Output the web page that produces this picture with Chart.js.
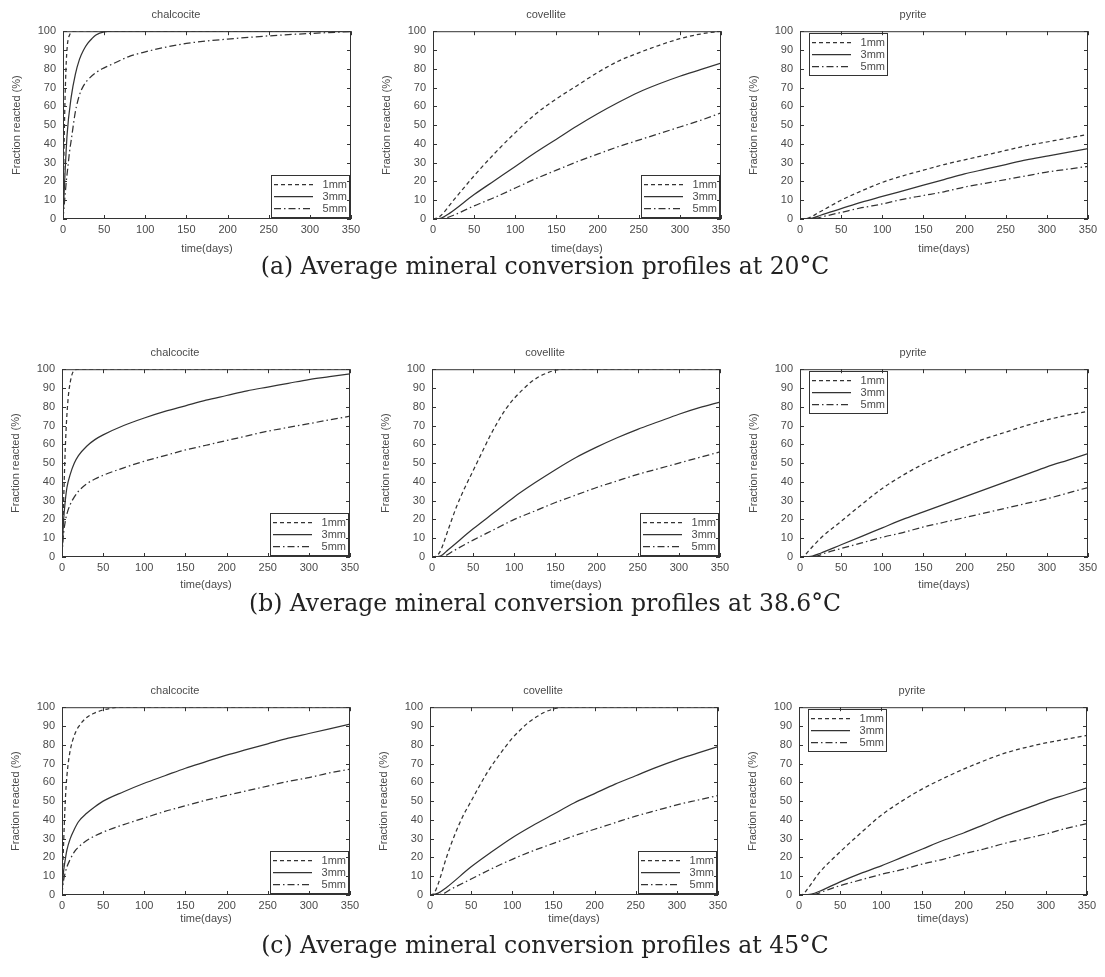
<!DOCTYPE html>
<html><head><meta charset="utf-8">
<script src="https://cdn.jsdelivr.net/npm/chart.js@4"></script>
<style>
body{margin:0;background:#fff;width:1105px;height:977px;position:relative;overflow:hidden;}
canvas{position:absolute;}
.cap{position:absolute;left:0;width:1090px;text-align:center;font-family:"DejaVu Serif",serif;font-size:23.5px;line-height:26px;color:#222;}
</style></head><body>
<script>
// ---- categories / labels ----
const minerals = ['chalcocite', 'covellite', 'pyrite'];
const sizes = ['1mm', '3mm', '5mm'];
const xTicks = [0, 50, 100, 150, 200, 250, 300, 350];
const yTicks = [0, 10, 20, 30, 40, 50, 60, 70, 80, 90, 100];
const captions = [
  '(a) Average mineral conversion profiles at 20°C',
  '(b) Average mineral conversion profiles at 38.6°C',
  '(c) Average mineral conversion profiles at 45°C'
];

// ---- series values: [time (days), fraction reacted (%)] ----
// 20 °C
const ch20_1 = [[0,0],[1,30],[2,55],[3,72],[4,84],[5,91],[6,95],[8,98],[10,99.5],[15,100],[350,100]];
const ch20_3 = [[0,0],[2,20],[5,45],[10,65],[15,77],[20,85],[25,90],[30,93.5],[35,96],[40,98],[50,99.7],[60,100],[350,100]];
const ch20_5 = [[0,0],[2,10],[4,20],[6,28],[8,36],[10,42],[15,57],[20,66],[25,71],[30,74],[40,78],[50,80.5],[60,82.5],[80,86.5],[100,89],[125,91.5],[150,93.5],[175,94.8],[200,95.8],[250,97.5],[300,98.8],[350,99.8]];
const cv20_1 = [[0,0],[5,0.5],[10,2],[25,10],[50,23],[75,35],[100,46],[125,56],[150,64],[175,71],[200,78],[225,84],[250,88.5],[275,92.5],[300,96],[325,98.5],[350,100]];
const cv20_3 = [[0,0],[10,0.5],[20,3],[50,13],[75,20.5],[100,28],[125,35.5],[150,42.5],[175,49.5],[200,56],[225,62],[250,67.5],[275,72],[300,76],[325,79.5],[350,83]];
const cv20_5 = [[0,0],[15,0.5],[25,2],[50,7],[75,11.5],[100,16.5],[125,21.5],[150,26],[175,30.5],[200,34.5],[225,38.5],[250,42],[275,45.5],[300,49],[325,52.5],[350,56.5]];
const py20_1 = [[0,0],[10,0.5],[25,4],[50,10],[75,15],[100,19.5],[125,23],[150,26],[175,29],[200,31.5],[225,34],[250,36.5],[275,39],[300,41],[325,43],[350,45]];
const py20_3 = [[0,0],[15,0.5],[25,2],[50,5.5],[75,9],[100,12],[125,15],[150,18],[175,21],[200,24],[225,26.5],[250,29],[275,31.5],[300,33.5],[325,35.5],[350,37.5]];
const py20_5 = [[0,0],[20,0.5],[30,1.5],[50,3.5],[75,6],[100,8],[125,10.5],[150,12.5],[175,14.5],[200,17],[225,19],[250,21],[275,23],[300,25],[325,26.5],[350,28]];
// 38.6 °C
const ch38_1 = [[0,0],[1,15],[2,30],[3,45],[4,58],[5,68],[6,76],[7,82],[8,87],[10,93],[12,97],[15,99.5],[20,100],[350,100]];
const ch38_3 = [[0,0],[1,12],[2,20],[4,30],[6,37],[10,44],[15,50],[20,54],[30,59],[40,62.5],[50,65],[75,70],[100,74],[125,77.5],[150,80.5],[175,83.5],[200,86],[225,88.5],[250,90.5],[275,92.5],[300,94.5],[325,96],[350,97.5]];
const ch38_5 = [[0,0],[1,8],[2,13],[4,19],[6,23],[10,28],[15,32],[20,35],[30,39],[40,41.5],[50,43.5],[75,47.5],[100,51],[125,54],[150,57],[175,59.5],[200,62],[225,64.5],[250,67],[275,69],[300,71],[325,73],[350,75]];
const cv38_1 = [[0,0],[5,0.5],[10,3],[20,15],[30,27],[40,37],[50,46],[60,55],[70,64],[80,72],[90,79],[100,84.5],[110,89],[120,93],[130,96],[140,98],[150,99.5],[160,100],[350,100]];
const cv38_3 = [[0,0],[10,0.5],[20,4],[50,15],[75,23.5],[100,32],[125,39.5],[150,46.5],[175,53],[200,58.5],[225,63.5],[250,68],[275,72],[300,76],[325,79.5],[350,82.5]];
const cv38_5 = [[0,0],[15,0.5],[25,3],[50,9],[75,14.5],[100,20],[125,24.5],[150,29],[175,33],[200,37],[225,40.5],[250,44],[275,47],[300,50],[325,53],[350,56]];
const py38_1 = [[0,0],[5,0.5],[10,3],[25,10],[50,19],[75,28],[100,36.5],[125,43.5],[150,49.5],[175,54.5],[200,59],[225,63],[250,66.5],[275,70],[300,73],[325,75.5],[350,77.5]];
const py38_3 = [[0,0],[15,0.5],[25,2],[50,6.5],[75,11],[100,15.5],[125,20],[150,24],[175,28],[200,32],[225,36],[250,40],[275,44],[300,48],[325,51.5],[350,55]];
const py38_5 = [[0,0],[20,0.5],[30,2],[50,4.5],[75,7.5],[100,10.5],[125,13],[150,16],[175,18.5],[200,21],[225,23.5],[250,26],[275,28.5],[300,31],[325,34],[350,37]];
// 45 °C
const ch45_1 = [[0,0],[1,15],[2,28],[3,40],[4,50],[5,58],[7,68],[10,77],[15,85],[20,89.5],[30,94.5],[40,97],[50,98.5],[60,99.5],[70,100],[350,100]];
const ch45_3 = [[0,0],[1,8],[2,13],[4,19],[6,24],[10,30],[15,35],[20,39],[30,43.5],[40,47],[50,50],[75,55],[100,59.5],[125,63.5],[150,67.5],[175,71],[200,74.5],[225,77.5],[250,80.5],[275,83.5],[300,86],[325,88.5],[350,91]];
const ch45_5 = [[0,0],[1,5],[2,8],[4,12],[6,15],[10,19],[15,23],[20,25.5],[30,29],[40,31.5],[50,33.5],[75,37.5],[100,41],[125,44.5],[150,47.5],[175,50.5],[200,53],[225,55.5],[250,58],[275,60.5],[300,62.5],[325,65],[350,67]];
const cv45_1 = [[0,0],[5,1],[10,6],[20,20],[30,32],[40,42],[50,50],[60,58],[70,65.5],[80,72],[90,78],[100,83.5],[110,88],[120,92],[130,95],[140,97.5],[150,99],[160,100],[350,100]];
const cv45_3 = [[0,0],[10,1],[20,4],[50,15],[75,23],[100,30.5],[125,37],[150,43],[175,49],[200,54],[225,59],[250,63.5],[275,68],[300,72],[325,75.5],[350,79]];
const cv45_5 = [[0,0],[15,0.5],[25,3],[50,8.5],[75,14],[100,19],[125,23.5],[150,27.5],[175,31.5],[200,35],[225,38.5],[250,42],[275,45],[300,48],[325,50.5],[350,53]];
const py45_1 = [[0,0],[5,0.5],[10,3],[25,12],[50,23],[75,33],[100,42.5],[125,50],[150,56.5],[175,62],[200,67],[225,71.5],[250,75.5],[275,78.5],[300,81],[325,83],[350,85]];
const py45_3 = [[0,0],[15,0.5],[25,2],[50,7],[75,11.5],[100,15.5],[125,20],[150,24.5],[175,29],[200,33],[225,37.5],[250,42],[275,46],[300,50],[325,53.5],[350,57]];
const py45_5 = [[0,0],[20,0.5],[30,2],[50,5],[75,8],[100,11],[125,13.5],[150,16.5],[175,19],[200,22],[225,24.5],[250,27.5],[275,30],[300,32.5],[325,35.5],[350,38]];

const panelSeries = [
  [[ch20_1, ch20_3, ch20_5], [cv20_1, cv20_3, cv20_5], [py20_1, py20_3, py20_5]],
  [[ch38_1, ch38_3, ch38_5], [cv38_1, cv38_3, cv38_5], [py38_1, py38_3, py38_5]],
  [[ch45_1, ch45_3, ch45_5], [cv45_1, cv45_3, cv45_5], [py45_1, py45_3, py45_5]]
];

// ---- layout & style ----
const rowPlotTop = [31, 369, 707];
const colPlotLeft = [[63, 433, 800], [62, 432, 800], [62, 430, 799]];
const xTitlePadBottom = [3, 5, 9];
const captionTop = [253, 590, 932];
const plotW = 288, plotH = 188, padL = 62, padT = 30, padR = 10, padB = 40;
const FONT = '"Liberation Sans", Arial, sans-serif';
const lineColor = '#333';
const textColor = '#4a4a4a';
const dashes = [[4, 3], [], [7, 3, 1.5, 3]];
const legendPos = ['br', 'br', 'tl'];

const framePlugin = {
  id: 'frame',
  afterDatasetsDraw(chart) {
    const { ctx, chartArea: a, scales } = chart;
    ctx.save();
    ctx.strokeStyle = lineColor;
    ctx.lineWidth = 1;
    ctx.setLineDash([]);
    ctx.strokeRect(a.left + 0.5, a.top + 0.5, a.width - 1, a.height - 1);
    ctx.beginPath();
    scales.x.ticks.forEach(t => {
      const px = Math.round(scales.x.getPixelForValue(t.value)) + 0.5;
      ctx.moveTo(px, a.bottom); ctx.lineTo(px, a.bottom - 4);
      ctx.moveTo(px, a.top); ctx.lineTo(px, a.top + 4);
    });
    scales.y.ticks.forEach(t => {
      const py = Math.round(scales.y.getPixelForValue(t.value)) + 0.5;
      ctx.moveTo(a.left, py); ctx.lineTo(a.left + 4, py);
      ctx.moveTo(a.right, py); ctx.lineTo(a.right - 4, py);
    });
    ctx.stroke();
    ctx.restore();
  }
};

const boxLegendPlugin = {
  id: 'boxLegend',
  afterDatasetsDraw(chart, args, opts) {
    const { ctx, chartArea: a } = chart;
    const w = 78, h = 42;
    let x0, y0;
    if (opts.pos === 'tl') { x0 = a.left + 9; y0 = a.top + 2; }
    else { x0 = a.right - 2 - w; y0 = a.bottom - 2 - h; }
    ctx.save();
    ctx.strokeStyle = lineColor;
    ctx.lineWidth = 1;
    ctx.setLineDash([]);
    ctx.strokeRect(Math.round(x0) + 0.5, Math.round(y0) + 0.5, w, h);
    chart.data.datasets.forEach((ds, i) => {
      const yy = Math.round(y0 + 9 + i * 12) + 0.5;
      ctx.setLineDash(ds.borderDash || []);
      ctx.lineWidth = ds.borderWidth;
      ctx.strokeStyle = ds.borderColor;
      ctx.beginPath(); ctx.moveTo(x0 + 3, yy); ctx.lineTo(x0 + 42, yy); ctx.stroke();
      ctx.setLineDash([]);
      ctx.fillStyle = textColor;
      ctx.font = '11px ' + FONT;
      ctx.textAlign = 'right';
      ctx.textBaseline = 'middle';
      ctx.fillText(ds.label, x0 + w - 2, yy);
    });
    ctx.restore();
  }
};

for (let r = 0; r < 3; r++) {
  for (let c = 0; c < 3; c++) {
    const cv = document.createElement('canvas');
    const W = padL + plotW + padR, H = padT + plotH + padB;
    cv.width = W; cv.height = H;
    cv.style.left = (colPlotLeft[r][c] - padL) + 'px';
    cv.style.top = (rowPlotTop[r] - padT) + 'px';
    cv.style.width = W + 'px'; cv.style.height = H + 'px';
    document.body.appendChild(cv);
    const datasets = panelSeries[r][c].map((s, i) => ({
      label: sizes[i],
      data: s.map(p => ({ x: p[0], y: p[1] })),
      borderColor: lineColor,
      borderWidth: 1.25,
      borderDash: dashes[i],
      pointRadius: 0,
      fill: false,
      cubicInterpolationMode: 'monotone'
    }));
    new Chart(cv, {
      type: 'line',
      data: { datasets },
      plugins: [framePlugin, boxLegendPlugin],
      options: {
        responsive: false,
        animation: false,
        devicePixelRatio: 1,
        layout: { padding: { left: 0, right: padR, top: 7, bottom: 0 } },
        plugins: {
          legend: { display: false },
          tooltip: { enabled: false },
          title: { display: true, text: minerals[c], color: textColor, font: { family: FONT, size: 11, weight: 'normal' }, padding: { top: 0, bottom: 10 } },
          boxLegend: { pos: legendPos[c] }
        },
        scales: {
          x: {
            type: 'linear', min: 0, max: 350,
            afterBuildTicks: s => { s.ticks = xTicks.map(v => ({ value: v })); },
            afterFit: s => { s.height = padB; s.paddingLeft = 0; s.paddingRight = 0; },
            grid: { display: false, drawTicks: false },
            border: { display: false },
            ticks: { padding: 4, color: textColor, font: { family: FONT, size: 11 }, maxRotation: 0, autoSkip: false },
            title: { display: true, text: 'time(days)', color: textColor, font: { family: FONT, size: 11 }, padding: { top: 0, bottom: xTitlePadBottom[r] } }
          },
          y: {
            min: 0, max: 100,
            afterBuildTicks: s => { s.ticks = yTicks.map(v => ({ value: v })); },
            afterFit: s => { s.width = padL; s.paddingTop = 0; s.paddingBottom = 0; },
            grid: { display: false, drawTicks: false },
            border: { display: false },
            ticks: { padding: 7, color: textColor, font: { family: FONT, size: 11 }, autoSkip: false },
            title: { display: true, text: 'Fraction reacted (%)', color: textColor, font: { family: FONT, size: 11 }, padding: { top: 9, bottom: 0 } }
          }
        }
      }
    });
  }
}

captions.forEach((t, i) => {
  const d = document.createElement('div');
  d.className = 'cap';
  d.style.top = captionTop[i] + 'px';
  d.textContent = t;
  document.body.appendChild(d);
});
</script>
</body></html>
